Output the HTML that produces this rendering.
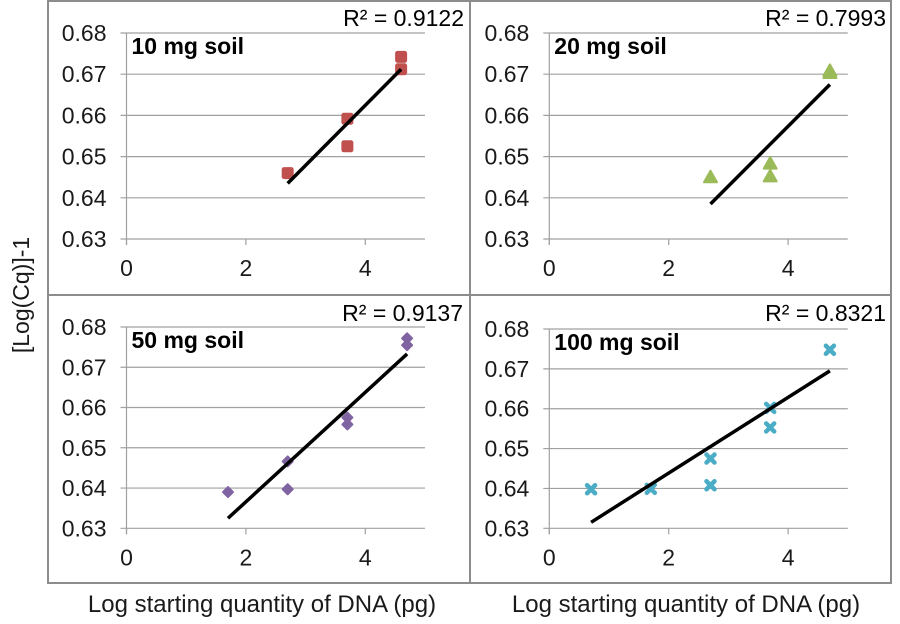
<!DOCTYPE html>
<html><head><meta charset="utf-8"><style>
html,body{margin:0;padding:0;background:#fff;width:900px;height:624px;overflow:hidden}
text{font-family:"Liberation Sans",Arial,sans-serif}
</style></head><body>
<svg id="s" width="900" height="624" xmlns="http://www.w3.org/2000/svg"></svg>
<script>
var S=document.getElementById('s'),h='';
function L(x1,y1,x2,y2,c,w){h+='<line x1="'+x1+'" y1="'+y1+'" x2="'+x2+'" y2="'+y2+'" stroke="'+c+'" stroke-width="'+w+'"/>';}
function T(x,y,t,o){h+='<text x="'+x+'" y="'+y+'" '+(o||'')+'>'+t+'</text>';}
h+='<rect x="48" y="1" width="843" height="582" fill="none" stroke="#8c8c8c" stroke-width="2"/>';
L(470,1,470,583,'#8c8c8c',2);L(48,295,891,295,'#8c8c8c',2);
var P=[
 {x0:126.5,y68:33,y63:239,rx:464,ry:26,title:'10 mg soil',r2:'0.9122',col:'#c0504d',m:'sq',
  pts:[[2.7,0.646],[3.7,0.6592],[3.7,0.6525],[4.6,0.6742],[4.6,0.6712]],ln:[2.7,0.6435,4.6,0.6712]},
 {x0:549.3,y68:33,y63:239,rx:886,ry:26,title:'20 mg soil',r2:'0.7993',col:'#9bbb59',m:'tri',
  pts:[[2.7,0.645],[3.7,0.6483],[3.7,0.6452],[4.7,0.6708],[4.7,0.6703]],ln:[2.7,0.6385,4.7,0.6675]},
 {x0:126.5,y68:327,y63:528.3,rx:463,ry:321,title:'50 mg soil',r2:'0.9137',col:'#8064a2',m:'dia',
  pts:[[1.7,0.639],[2.7,0.6466],[2.7,0.6397],[3.7,0.6575],[3.7,0.6558],[4.7,0.6772],[4.7,0.6755]],ln:[1.7,0.6325,4.7,0.6733]},
 {x0:549.3,y68:329,y63:528.3,rx:886,ry:321,title:'100 mg soil',r2:'0.8321',col:'#4bacc6',m:'x',
  pts:[[0.7,0.6398],[1.7,0.6399],[2.7,0.6475],[2.7,0.6408],[3.7,0.6602],[3.7,0.6553],[4.7,0.6748]],ln:[0.7,0.6315,4.7,0.6695]}
];
P.forEach(function(p){
 var ux=59.7,uy=(p.y63-p.y68)/0.05,x5=p.x0+5*ux;
 function X(v){return p.x0+v*ux} function Y(v){return p.y63-(v-0.63)*uy}
 for(var i=0;i<6;i++){var y=Y(0.63+i*0.01);L(p.x0-6,y,x5,y,'#a0a0a0',1.2);
  T(p.x0-20,y+8,(0.63+i*0.01).toFixed(2),'font-size="23" text-anchor="end" fill="#1a1a1a"');}
 L(p.x0,p.y68,p.x0,p.y63+6,'#a0a0a0',1.2);
 for(var k=0;k<3;k++){var x=X(k*2);L(x,p.y63,x,p.y63+6,'#a0a0a0',1.2);
  T(x,p.y63+37,k*2,'font-size="23" text-anchor="middle" fill="#1a1a1a"');}
 T(p.x0+5,p.y68+21,p.title,'font-size="23" font-weight="bold" fill="#000"');
 T(p.rx,p.ry,'R² = '+p.r2,'font-size="23" text-anchor="end" fill="#000"');
 p.pts.forEach(function(q){var x=X(q[0]),y=Y(q[1]),c=p.col;
  if(p.m=='sq')h+='<rect x="'+(x-6)+'" y="'+(y-6)+'" width="12" height="12" rx="2.5" fill="'+c+'"/>';
  else if(p.m=='tri')h+='<path d="M'+x+' '+(y-6.5)+' L'+(x+6.5)+' '+(y+5)+' L'+(x-6.5)+' '+(y+5)+'Z" fill="'+c+'" stroke="'+c+'" stroke-width="2" stroke-linejoin="round"/>';
  else if(p.m=='dia')h+='<path d="M'+x+' '+(y-5)+' L'+(x+5)+' '+y+' L'+x+' '+(y+5)+' L'+(x-5)+' '+y+'Z" fill="'+c+'" stroke="'+c+'" stroke-width="2" stroke-linejoin="round"/>';
  else h+='<path d="M'+(x-4)+' '+(y-4)+' L'+(x+4)+' '+(y+4)+' M'+(x+4)+' '+(y-4)+' L'+(x-4)+' '+(y+4)+'" stroke="'+c+'" stroke-width="4.5" stroke-linecap="round"/>';
 });
 L(X(p.ln[0]),Y(p.ln[1]),X(p.ln[2]),Y(p.ln[3]),'#000',3.5);
});
T(262,612,'Log starting quantity of DNA (pg)','font-size="24" text-anchor="middle" fill="#1a1a1a"');
T(686,612,'Log starting quantity of DNA (pg)','font-size="24" text-anchor="middle" fill="#1a1a1a"');
T(0,0,'[Log(Cq)]-1','font-size="23" text-anchor="middle" fill="#1a1a1a" transform="translate(29,295) rotate(-90)"');
S.innerHTML=h;
</script>
</body></html>
